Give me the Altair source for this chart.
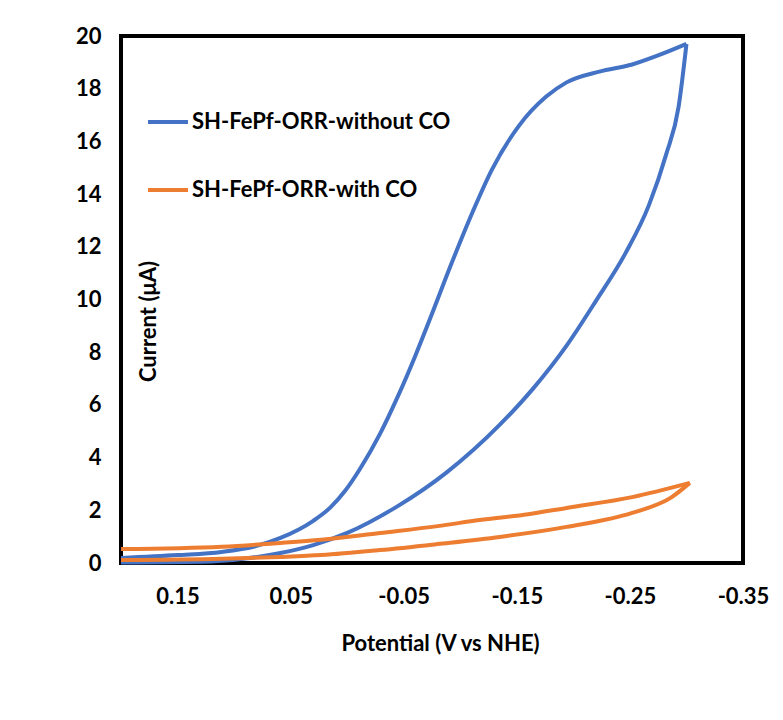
import altair as alt
import pandas as pd

# Blue: SH-FePf-ORR-without CO (forward scan, then return scan)
blue_fwd_x = [0.200, 0.150, 0.111, 0.080, 0.059, 0.030, 0.015, 0.002, -0.011, -0.029, -0.045,
              -0.060, -0.073, -0.093, -0.111, -0.128, -0.152, -0.176, -0.194, -0.223, -0.252,
              -0.276, -0.300]
blue_fwd_y = [0.19, 0.30, 0.42, 0.65, 0.95, 1.60, 2.10, 2.73, 3.55, 4.90, 6.34,
              7.84, 9.24, 11.45, 13.33, 14.93, 16.6, 17.7, 18.24, 18.65, 18.92,
              19.28, 19.7]
blue_rev_x = [-0.300, -0.293, -0.282, -0.267, -0.246, -0.220, -0.194, -0.164, -0.135, -0.088,
              -0.044, 0.000, 0.030, 0.059, 0.090, 0.120, 0.200]
blue_rev_y = [19.7, 17.3, 15.5, 13.6, 11.75, 9.95, 8.25, 6.6, 5.25, 3.44,
              2.14, 1.14, 0.68, 0.38, 0.17, 0.06, 0.02]

# Orange: SH-FePf-ORR-with CO
orange_fwd_x = [0.200, 0.111, 0.059, 0.023, -0.029, -0.080, -0.117, -0.160, -0.194, -0.252, -0.303]
orange_fwd_y = [0.53, 0.62, 0.76, 0.88, 1.14, 1.40, 1.63, 1.85, 2.09, 2.50, 3.04]
orange_rev_x = [-0.303, -0.287, -0.252, -0.194, -0.135, -0.080, -0.029, 0.023, 0.059, 0.111, 0.200]
orange_rev_y = [3.04, 2.50, 1.90, 1.37, 0.99, 0.72, 0.49, 0.30, 0.23, 0.16, 0.11]

series_names = ["SH-FePf-ORR-without CO", "SH-FePf-ORR-with CO"]
series_colors = ["#4472C4", "#ED7D31"]
x_ticks = [0.15, 0.05, -0.05, -0.15, -0.25, -0.35]
y_ticks = [0, 2, 4, 6, 8, 10, 12, 14, 16, 18, 20]

rows = []
for name, branches in [
    (series_names[0], [("fwd", blue_fwd_x, blue_fwd_y), ("rev", blue_rev_x, blue_rev_y)]),
    (series_names[1], [("fwd", orange_fwd_x, orange_fwd_y), ("rev", orange_rev_x, orange_rev_y)]),
]:
    for branch, xs, ys in branches:
        for xv, yv in zip(xs, ys):
            rows.append({"series": name, "branch": name + "-" + branch,
                         "potential": xv, "current": yv})
df = pd.DataFrame(rows)

FONT = "Lato"
FS = 22

chart = alt.Chart(df).mark_line(strokeWidth=4, interpolate="monotone").encode(
    x=alt.X("potential:Q",
            scale=alt.Scale(domain=[0.2, -0.35], nice=False, zero=False),
            axis=alt.Axis(values=x_ticks, title="Potential (V vs NHE)",
                          labelExpr="replace(format(datum.value, '.2f'), '\u2212', '-')",
                          labelFlush=False, labelOverlap=False,
                          labelPadding=33, labelBaseline="middle", tickSize=0, ticks=False,
                          titleX=319, titleY=80, titleBaseline="middle", titleAlign="center")),
    y=alt.Y("current:Q",
            scale=alt.Scale(domain=[0, 20], nice=False),
            axis=alt.Axis(values=y_ticks, title="Current (μA)", labelPadding=20, tickSize=0,
                          ticks=False, labelFlush=False, labelOverlap=False,
                          titleAngle=270, titleX=27, titleY=285,
                          titleAlign="center", titleBaseline="middle")),
    color=alt.Color("series:N",
                    scale=alt.Scale(domain=series_names, range=series_colors),
                    legend=alt.Legend(title=None, orient="none", legendX=25, legendY=64,
                                      symbolType="stroke", symbolSize=1600,
                                      symbolStrokeWidth=4, labelOffset=2, rowPadding=35,
                                      labelFontSize=FS, labelFont=FONT, labelFontWeight="bold",
                                      labelColor="#000000", labelLimit=400)),
    detail="branch:N",
).properties(
    width=622,
    height=527,
    autosize=alt.AutoSizeParams(type="none"),
    padding={"left": 121, "top": 36, "right": 40, "bottom": 157},
).configure(
    background="white"
).configure_view(
    stroke="#000000", strokeWidth=4
).configure_axis(
    domain=False, grid=False,
    labelFont=FONT, labelFontSize=FS, labelFontWeight="bold", labelColor="#000000",
    titleFont=FONT, titleFontSize=FS, titleFontWeight="bold", titleColor="#000000",
)

chart.save("out.html", embed_options={"renderer": "svg", "actions": False})
